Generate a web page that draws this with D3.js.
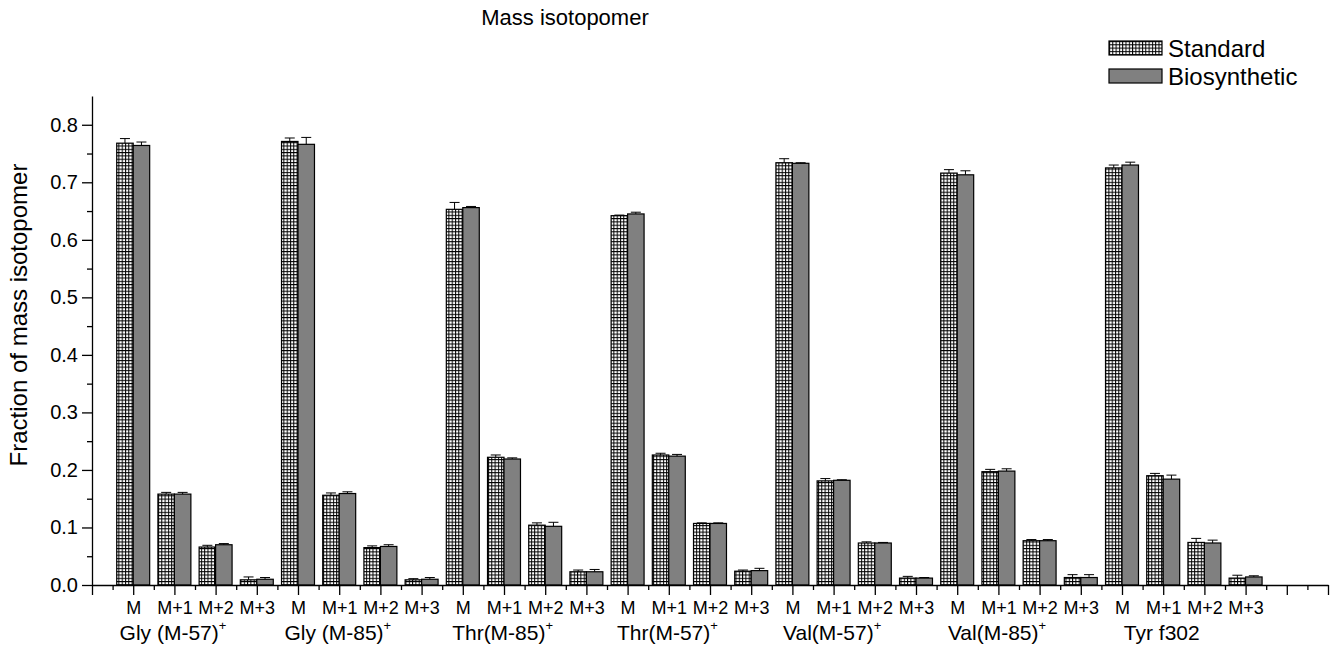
<!DOCTYPE html>
<html>
<head>
<meta charset="utf-8">
<script src="https://cdn.jsdelivr.net/npm/d3@7"></script>
<style>
    body { margin: 0; background: #fff; }
    svg { font-family: "Liberation Sans", Arial, sans-serif; }
    .axis path, .axis line { stroke: #000; stroke-width: 1.3px; }
    .axis text { fill: #000; }
</style>
</head>
<body>
<svg id="chart" width="1341" height="654"></svg>
<script>
// amino acid fragments, each with four mass isotopomers
const groups = ["Gly (M-57)", "Gly (M-85)", "Thr(M-85)", "Thr(M-57)", "Val(M-57)", "Val(M-85)", "Tyr f302"];
const groupSup = ["+", "+", "+", "+", "+", "+", ""];
const isotopes = ["M", "M+1", "M+2", "M+3"];
const seriesNames = ["Standard", "Biosynthetic"];

const standard = [
    0.768, 0.158, 0.066, 0.009,
    0.771, 0.156, 0.065, 0.009,
    0.653, 0.222, 0.104, 0.023,
    0.642, 0.226, 0.107, 0.024,
    0.734, 0.181, 0.073, 0.012,
    0.716, 0.197, 0.077, 0.013,
    0.725, 0.190, 0.074, 0.012
];
const standardErr = [
    0.008, 0.003, 0.003, 0.005,
    0.006, 0.004, 0.003, 0.002,
    0.012, 0.004, 0.004, 0.003,
    0.001, 0.003, 0.001, 0.002,
    0.007, 0.004, 0.002, 0.003,
    0.006, 0.004, 0.002, 0.005,
    0.005, 0.004, 0.007, 0.005
];
const biosynthetic = [
    0.764, 0.158, 0.070, 0.010,
    0.766, 0.159, 0.067, 0.010,
    0.656, 0.219, 0.102, 0.023,
    0.645, 0.224, 0.107, 0.025,
    0.733, 0.182, 0.073, 0.012,
    0.713, 0.198, 0.077, 0.013,
    0.730, 0.184, 0.073, 0.014
];
const biosyntheticErr = [
    0.006, 0.003, 0.002, 0.003,
    0.012, 0.003, 0.003, 0.003,
    0.002, 0.002, 0.007, 0.004,
    0.003, 0.003, 0.001, 0.004,
    0.001, 0.001, 0.001, 0.001,
    0.007, 0.004, 0.002, 0.005,
    0.005, 0.007, 0.005, 0.002
];
const yTicks = [0, 0.1, 0.2, 0.3, 0.4, 0.5, 0.6, 0.7, 0.8];

const svg = d3.select("#chart");
const margin = {top: 96, right: 13, bottom: 69, left: 92};
const width = 1341 - margin.left - margin.right;
const height = 654 - margin.top - margin.bottom;

// flat list of categories, positions 1..28 on a 0..30 axis
let cats = [];
groups.forEach((g, gi) => {
    isotopes.forEach((iso, ii) => {
        let i = gi * isotopes.length + ii;
        cats.push({pos: i + 1, label: iso, group: gi,
                   values: [standard[i], biosynthetic[i]],
                   errs: [standardErr[i], biosyntheticErr[i]]});
    });
});

const xScale = d3.scaleLinear().domain([0, 30]).range([0, width]);
const yScale = d3.scaleLinear().domain([0, 0.85]).range([height, 0]);
const barW = xScale(0.4) - xScale(0);

// grid hatch for the standard series
const defs = svg.append("defs");
const pat = defs.append("pattern")
    .attr("id", "grid")
    .attr("patternUnits", "userSpaceOnUse")
    .attr("width", 3.3).attr("height", 3.3);
pat.append("rect").attr("width", 3.3).attr("height", 3.3).attr("fill", "#fff");
pat.append("path").attr("d", "M0,0.5H3.3M0.5,0V3.3")
    .attr("stroke", "#000").attr("stroke-width", 1);

const fills = ["url(#grid)", "#808080"];

const chart = svg.append("g")
    .attr("transform", "translate(" + margin.left + "," + margin.top + ")");

// bars
const catG = chart.selectAll(".cat").data(cats).enter().append("g")
    .attr("class", "cat");

[0, 1].forEach(s => {
    catG.append("rect")
        .attr("x", d => xScale(d.pos) - barW + s * barW)
        .attr("y", d => yScale(d.values[s]))
        .attr("width", barW)
        .attr("height", d => height - yScale(d.values[s]))
        .attr("fill", fills[s])
        .attr("stroke", "#000")
        .attr("stroke-width", 1.2);

    // upper error bar only
    let ex = d => xScale(d.pos) - barW / 2 + s * barW;
    catG.append("line")
        .attr("x1", ex).attr("x2", ex)
        .attr("y1", d => yScale(d.values[s]))
        .attr("y2", d => yScale(d.values[s] + d.errs[s]))
        .attr("stroke", "#000").attr("stroke-width", 1);
    catG.append("line")
        .attr("x1", d => ex(d) - 5).attr("x2", d => ex(d) + 5)
        .attr("y1", d => yScale(d.values[s] + d.errs[s]))
        .attr("y2", d => yScale(d.values[s] + d.errs[s]))
        .attr("stroke", "#000").attr("stroke-width", 1);
});

// y axis with minor ticks
chart.append("g").attr("class", "y axis")
    .call(d3.axisLeft(yScale).tickValues(d3.range(0.05, 0.8, 0.1)).tickSize(5).tickFormat(""))
    .select(".domain").remove();
chart.append("g").attr("class", "y axis")
    .call(d3.axisLeft(yScale).tickValues(yTicks).tickSize(10).tickSizeOuter(0)
        .tickFormat(d3.format(".1f")))
    .selectAll("text").style("font-size", "20px").attr("x", -14);

// x axis: major ticks under categories, minor ticks half way
chart.append("g").attr("class", "x axis")
    .attr("transform", "translate(0," + height + ")")
    .call(d3.axisBottom(xScale).tickValues(d3.range(0.5, 30, 1)).tickSize(5).tickFormat(""))
    .select(".domain").remove();
chart.append("g").attr("class", "x axis")
    .attr("transform", "translate(0," + height + ")")
    .call(d3.axisBottom(xScale).tickValues(d3.range(0, 31, 1)).tickSize(10).tickSizeOuter(0)
        .tickFormat(d => (d >= 1 && d <= cats.length) ? cats[d - 1].label : ""))
    .selectAll("text").style("font-size", "18px").attr("y", 16);

// group labels under each set of four
const gl = chart.selectAll(".glabel").data(groups).enter().append("text")
    .attr("class", "glabel")
    .attr("x", (d, i) => xScale(i * 4 + 2.5) - 22)
    .attr("y", height + 55)
    .attr("text-anchor", "middle")
    .style("font-size", "21px");
gl.append("tspan").text(d => d);
gl.append("tspan").text((d, i) => groupSup[i])
    .attr("dy", -10).style("font-size", "13px");

// titles
svg.append("text")
    .attr("x", 565).attr("y", 25)
    .attr("text-anchor", "middle")
    .style("font-size", "22px")
    .text("Mass isotopomer");

svg.append("text")
    .attr("transform", "translate(27," + 315 + ") rotate(-90)")
    .attr("text-anchor", "middle")
    .style("font-size", "24px")
    .text("Fraction of mass isotopomer");

// legend
const legend = svg.append("g").attr("transform", "translate(1109,41)");
seriesNames.forEach((name, i) => {
    legend.append("rect")
        .attr("x", 0).attr("y", i * 28)
        .attr("width", 53).attr("height", 14)
        .attr("fill", fills[i])
        .attr("stroke", "#000").attr("stroke-width", 1.2);
    legend.append("text")
        .attr("x", 59).attr("y", i * 28 + 16)
        .style("font-size", "24px")
        .text(name);
});
</script>
</body>
</html>
